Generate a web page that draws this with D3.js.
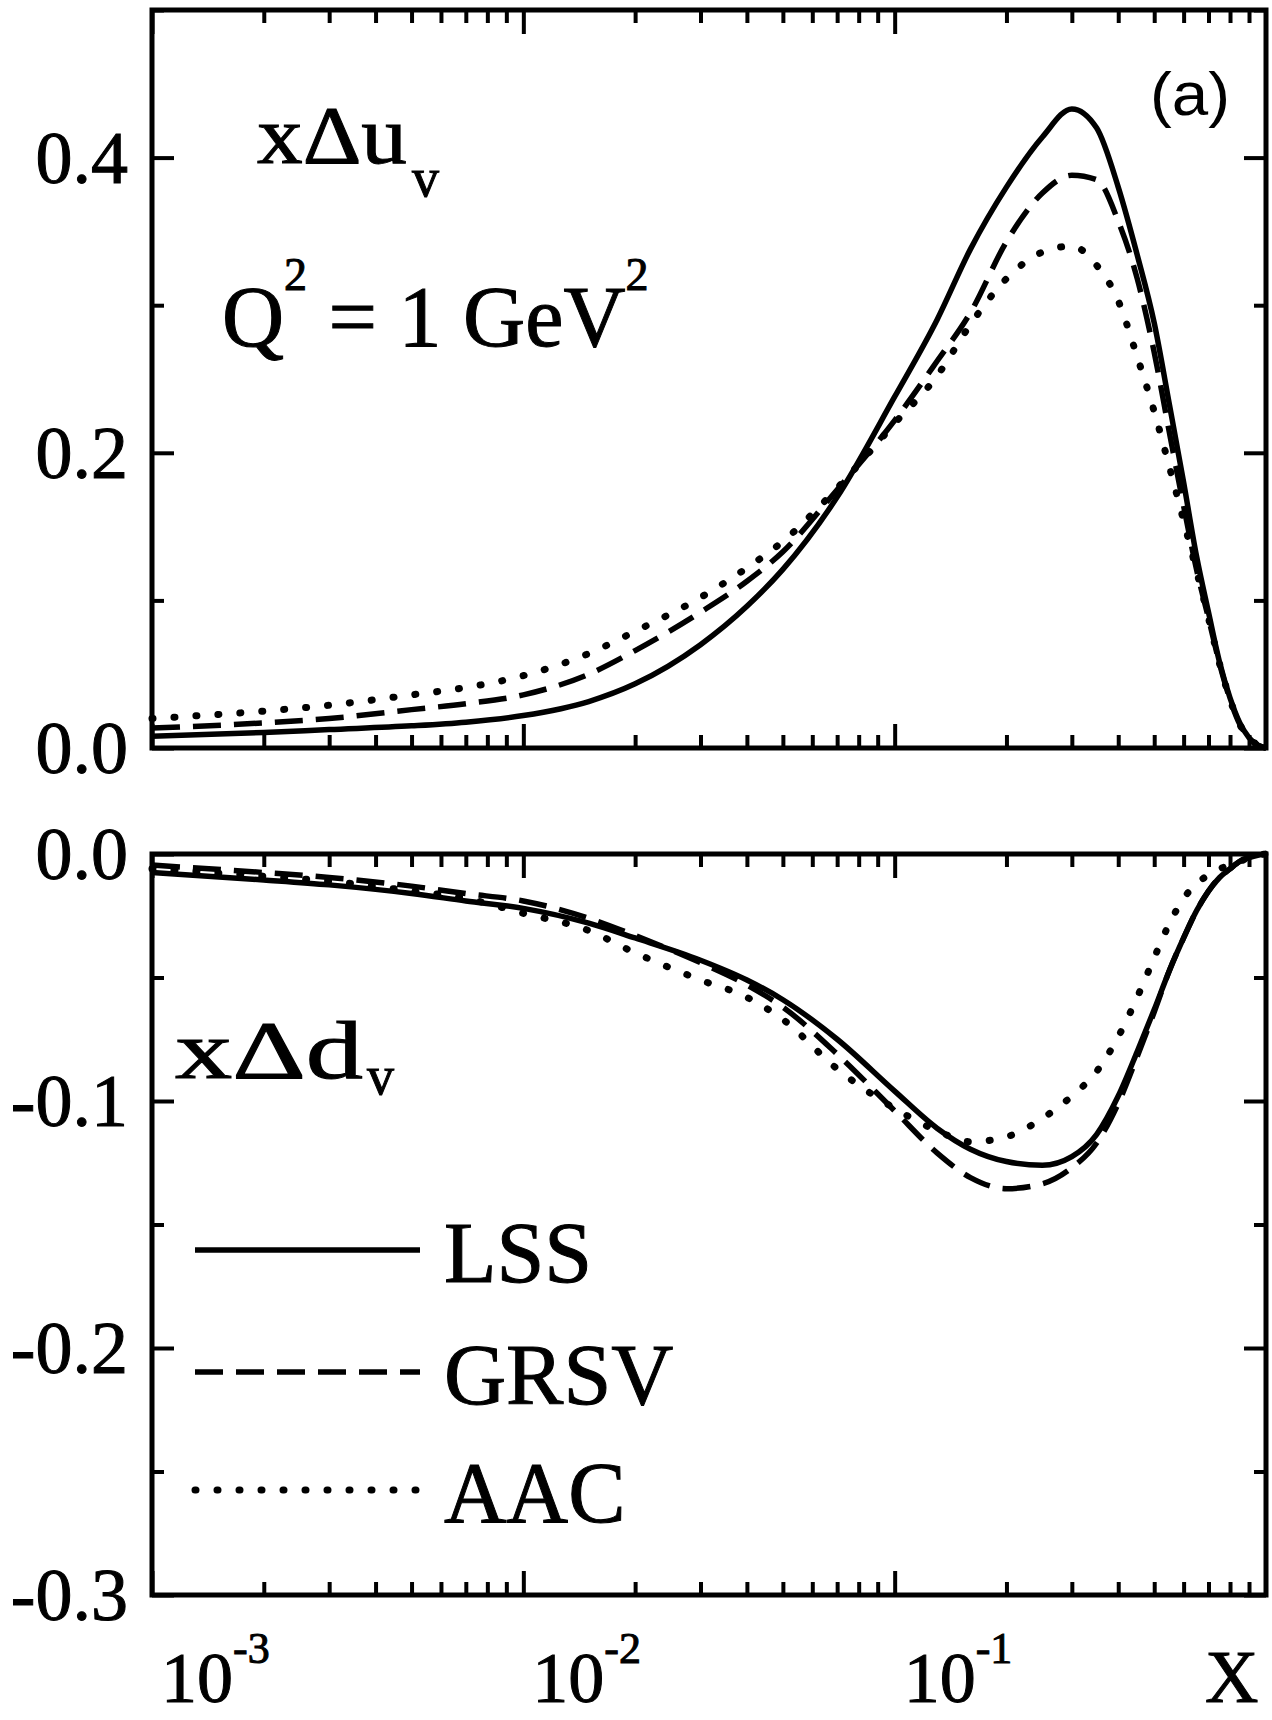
<!DOCTYPE html>
<html><head><meta charset="utf-8">
<script src="https://cdn.jsdelivr.net/npm/d3@7"></script>
<style>body{margin:0;background:#fff}svg{display:block}</style>
</head><body><svg id="c" width="1272" height="1720"></svg>
<script>
// ---------------- data ----------------
const xVals = [0.001,0.002,0.003,0.005,0.007,0.01,0.015,0.02,0.03,0.04,0.05,0.07,0.1,0.13,0.16,0.2,0.25,0.3,0.35,0.4,0.45,0.5,0.55,0.6,0.65,0.7,0.75,0.8,0.85,0.9,0.95,1.0];
// x*Delta u_v  (top panel)
const lssU  = [0.008,0.0105,0.0125,0.015,0.0175,0.022,0.0315,0.0435,0.070,0.096,0.121,0.170,0.238,0.290,0.338,0.380,0.414,0.433,0.420,0.380,0.334,0.288,0.232,0.180,0.130,0.092,0.058,0.034,0.017,0.007,0.002,0.0];
const grsvU = [0.0135,0.017,0.020,0.026,0.030,0.036,0.050,0.066,0.092,0.113,0.133,0.175,0.222,0.262,0.295,0.343,0.376,0.388,0.385,0.357,0.318,0.268,0.213,0.164,0.121,0.088,0.057,0.033,0.016,0.007,0.002,0.0];
const aacU  = [0.020,0.025,0.029,0.036,0.041,0.049,0.064,0.079,0.102,0.122,0.140,0.176,0.220,0.252,0.287,0.318,0.336,0.340,0.327,0.303,0.265,0.228,0.190,0.154,0.120,0.088,0.057,0.033,0.016,0.007,0.002,0.0];
// x*Delta d_v  (bottom panel)
const lssD  = [-0.0075,-0.0105,-0.0125,-0.016,-0.019,-0.022,-0.028,-0.034,-0.043,-0.051,-0.059,-0.075,-0.096,-0.111,-0.1195,-0.1245,-0.126,-0.1225,-0.1135,-0.098,-0.080,-0.063,-0.047,-0.034,-0.023,-0.015,-0.0095,-0.006,-0.003,-0.0015,-0.0005,0.0];
const grsvD = [-0.0045,-0.0075,-0.0095,-0.013,-0.016,-0.019,-0.026,-0.033,-0.044,-0.053,-0.062,-0.081,-0.104,-0.121,-0.131,-0.1355,-0.1335,-0.127,-0.117,-0.101,-0.082,-0.064,-0.047,-0.034,-0.023,-0.015,-0.0095,-0.006,-0.003,-0.0015,-0.0005,0.0];
const aacD  = [-0.006,-0.009,-0.011,-0.015,-0.018,-0.024,-0.031,-0.040,-0.051,-0.058,-0.067,-0.087,-0.103,-0.112,-0.1165,-0.1145,-0.107,-0.098,-0.088,-0.074,-0.058,-0.042,-0.028,-0.018,-0.012,-0.0085,-0.006,-0.0045,-0.003,-0.0015,-0.0005,0.0];

const seriesNames = ["LSS","GRSV","AAC"];
const topMajor = [0.0,0.2,0.4], topMinor = [0.1,0.3,0.5];
const botMajor = [0.0,-0.1,-0.2,-0.3], botMinor = [-0.05,-0.15,-0.25];
const topLabels = ["0.0","0.2","0.4"];
const botLabels = ["0.0","-0.1","-0.2","-0.3"];
const xDecades = [1e-3,1e-2,1e-1];
const xExponents = ["-3","-2","-1"];

// ---------------- layout ----------------
const L = 152, R = 1266;
const T1 = 10, B1 = 748, T2 = 854, B2 = 1595;
const serif = "'Liberation Serif','Times New Roman',serif";
const styles = {
  LSS:  {dash:null, w:5.5, cap:"butt"},
  GRSV: {dash:"28,13", w:5.5, cap:"butt"},
  AAC:  {dash:"1,21", w:7, cap:"round"}
};

const svg = d3.select("#c");
svg.append("rect").attr("width",1272).attr("height",1720).attr("fill","#fff");

const x = d3.scaleLog().domain([1e-3,1]).range([L,R]);
const yTop = d3.scaleLinear().domain([0,0.5]).range([B1,T1]);
const yBot = d3.scaleLinear().domain([-0.3,0]).range([B2,T2]);

const xMinorVals = x.ticks().filter(v => !xDecades.includes(v) && v < 1 && v > 1e-3);

function axisStyle(sel){
  sel.select(".domain").remove();
  sel.selectAll(".tick line").attr("stroke","#000").attr("stroke-width",4);
  sel.selectAll(".tick text").remove();
}
function txt(sel){ return sel.attr("font-family",serif).attr("fill","#000").attr("stroke","#000").attr("stroke-width",1); }

function panel(y, top, bottom, majors, minors, labels, series){
  const g = svg.append("g");
  g.append("g").attr("transform",`translate(0,${bottom})`)
    .call(d3.axisTop(x).tickValues(xDecades).tickSize(24).tickFormat("")).call(axisStyle);
  g.append("g").attr("transform",`translate(0,${bottom})`)
    .call(d3.axisTop(x).tickValues(xMinorVals).tickSize(13).tickFormat("")).call(axisStyle);
  g.append("g").attr("transform",`translate(0,${top})`)
    .call(d3.axisBottom(x).tickValues(xDecades).tickSize(24).tickFormat("")).call(axisStyle);
  g.append("g").attr("transform",`translate(0,${top})`)
    .call(d3.axisBottom(x).tickValues(xMinorVals).tickSize(13).tickFormat("")).call(axisStyle);
  g.append("g").attr("transform",`translate(${L},0)`)
    .call(d3.axisRight(y).tickValues(majors).tickSize(22).tickFormat("")).call(axisStyle);
  g.append("g").attr("transform",`translate(${L},0)`)
    .call(d3.axisRight(y).tickValues(minors).tickSize(12).tickFormat("")).call(axisStyle);
  g.append("g").attr("transform",`translate(${R},0)`)
    .call(d3.axisLeft(y).tickValues(majors).tickSize(22).tickFormat("")).call(axisStyle);
  g.append("g").attr("transform",`translate(${R},0)`)
    .call(d3.axisLeft(y).tickValues(minors).tickSize(12).tickFormat("")).call(axisStyle);
  g.selectAll("text.yl").data(majors).enter().append("text")
    .attr("x",128).attr("y",d=>y(d)+25)
    .attr("text-anchor","end").attr("font-size",74).call(txt)
    .text((d,i)=>labels[i]);
  const line = d3.line().x(d=>x(d[0])).y(d=>y(d[1])).curve(d3.curveMonotoneX);
  series.forEach((vals,i)=>{
    const st = styles[seriesNames[i]];
    g.append("path").datum(xVals.map((xv,j)=>[xv,vals[j]]))
      .attr("d",line).attr("fill","none").attr("stroke","#000")
      .attr("stroke-width",st.w).attr("stroke-linecap",st.cap)
      .attr("stroke-linejoin","round")
      .attr("stroke-dasharray",st.dash);
  });
  g.append("rect").attr("x",L).attr("y",top).attr("width",R-L).attr("height",bottom-top)
    .attr("fill","none").attr("stroke","#000").attr("stroke-width",5);
}

panel(yTop, T1, B1, topMajor, topMinor, topLabels, [lssU, grsvU, aacU]);
panel(yBot, T2, B2, botMajor, botMinor, botLabels, [lssD, grsvD, aacD]);

// x tick labels
xDecades.forEach((v,i)=>{
  const t = svg.append("text").attr("x",x(v)+9).attr("y",1702).attr("font-size",72).call(txt);
  t.append("tspan").text("10");
  t.append("tspan").attr("dy",-39).attr("font-size",44).text(xExponents[i]);
});
svg.append("text").attr("x",1205).attr("y",1702).attr("font-size",74).call(txt).text("X");

// panel annotations
const a1 = svg.append("text").attr("x",257).attr("y",163).attr("font-size",82).call(txt);
a1.append("tspan").attr("textLength",150).attr("lengthAdjust","spacingAndGlyphs").text("xΔu");
a1.append("tspan").attr("dx",5).attr("dy",33).attr("font-size",54).text("v");

const q = svg.append("text").attr("x",222).attr("y",346).attr("font-size",86).call(txt);
q.append("tspan").text("Q");
q.append("tspan").attr("dy",-56).attr("font-size",46).text("2");
q.append("tspan").attr("dy",56).text(" = 1 GeV");
q.append("tspan").attr("dy",-56).attr("font-size",46).text("2");

svg.append("text").attr("x",1150).attr("y",115).attr("font-family","'Liberation Sans',Arial,sans-serif")
  .attr("font-size",62).attr("textLength",80).attr("lengthAdjust","spacingAndGlyphs").text("(a)");

const a2 = svg.append("text").attr("x",175).attr("y",1078).attr("font-size",82).call(txt);
a2.append("tspan").attr("textLength",188).attr("lengthAdjust","spacingAndGlyphs").text("xΔd");
a2.append("tspan").attr("dx",4).attr("dy",16).attr("font-size",54).text("v");

// legend
const legY = [1250, 1372, 1490];
seriesNames.forEach((n,i)=>{
  const st = styles[n];
  svg.append("line").attr("x1",195).attr("x2",420).attr("y1",legY[i]).attr("y2",legY[i])
    .attr("stroke","#000").attr("stroke-width",st.w).attr("stroke-linecap",st.cap)
    .attr("stroke-dasharray",st.dash);
  svg.append("text").attr("x",444).attr("y",legY[i]+32).attr("font-size",86).call(txt).text(n);
});
</script></body></html>
